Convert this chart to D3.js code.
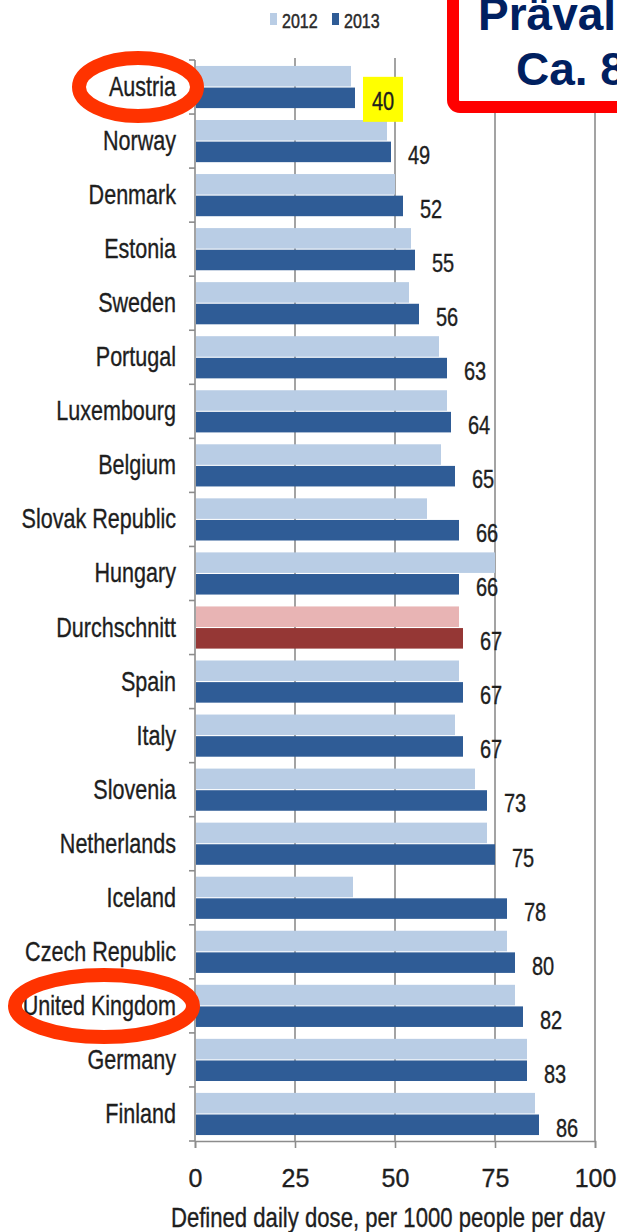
<!DOCTYPE html>
<html>
<head>
<meta charset="utf-8">
<script src="https://cdn.jsdelivr.net/npm/d3@7"></script>
<style>
  html, body { margin: 0; padding: 0; background: #fff; }
  svg { display: block; }
  text { font-family: "Liberation Sans", Arial, sans-serif; }
</style>
</head>
<body>
<svg id="chart" width="617" height="1232"></svg>
<script>
// Antibiotic consumption, defined daily dose per 1000 people per day
const countries = ["Austria", "Norway", "Denmark", "Estonia", "Sweden", "Portugal",
  "Luxembourg", "Belgium", "Slovak Republic", "Hungary", "Durchschnitt", "Spain",
  "Italy", "Slovenia", "Netherlands", "Iceland", "Czech Republic", "United Kingdom",
  "Germany", "Finland"];
const values2012 = [39, 48, 50, 54, 53.5, 61, 63, 61.5, 58, 75, 66, 66, 65, 70, 73, 39.5, 78, 80, 83, 85];
const values2013 = [40, 49, 52, 55, 56, 63, 64, 65, 66, 66, 67, 67, 67, 73, 75, 78, 80, 82, 83, 86];
const seriesNames = ["2012", "2013"];
const xTicks = [0, 25, 50, 75, 100];
const axisTitle = "Defined daily dose, per 1000 people per day";
const averageLabel = "Durchschnitt";
const highlighted = ["Austria", "United Kingdom"];
const calloutLines = ["Prävalenz", "Ca. 8"];

const colors = { "2012": "#b9cde5", "2013": "#2f5c96" };
const avgColors = { "2012": "#e8b4b4", "2013": "#953735" };

const svg = d3.select("#chart");
const plotLeft = 195, plotRight = 595, plotTop = 60, plotBottom = 1141;

const x = d3.scaleLinear().domain([0, 100]).range([plotLeft, plotRight]);
const y = d3.scaleBand().domain(countries).range([plotTop, plotBottom]).paddingInner(0).paddingOuter(0);
const bw = y.bandwidth();
const inner = d3.scaleBand().domain(seriesNames).range([bw * 0.11, bw * 0.89]).paddingInner(0.05);

const rows = countries.map((c, i) => ({ country: c, "2012": values2012[i], "2013": values2013[i] }));

// text helper: horizontally condensed lettering
function label(g, tx, ty, str, size, anchor, sx, extra) {
  const t = g.append("text")
    .attr("transform", `translate(${tx},${ty}) scale(${sx},1)`)
    .attr("text-anchor", anchor)
    .attr("font-size", size)
    .attr("fill", "#1e1e1e")
    .attr("stroke", "#1e1e1e")
    .attr("stroke-width", 0.35)
    .text(str);
  if (extra) extra(t);
  return t;
}

// vertical gridlines
svg.append("g")
  .selectAll("line")
  .data(xTicks.slice(1))
  .join("line")
  .attr("x1", d => x(d)).attr("x2", d => x(d))
  .attr("y1", plotTop - 2).attr("y2", plotBottom)
  .attr("stroke", "#8c8c8c").attr("stroke-width", 1.6);

// bottom axis
const xAxis = svg.append("g")
  .attr("transform", `translate(0,${plotBottom})`)
  .call(d3.axisBottom(x).tickValues(xTicks).tickSize(7).tickFormat(d3.format("d")));
xAxis.select(".domain").attr("stroke", "#8c8c8c").attr("stroke-width", 1.6);
xAxis.selectAll(".tick line").attr("stroke", "#8c8c8c").attr("stroke-width", 1.6);
xAxis.selectAll(".tick text")
  .attr("y", 0).attr("dy", 0)
  .attr("transform", "translate(0,46) scale(1.0,1)")
  .attr("font-size", 25)
  .attr("font-family", "Liberation Sans, Arial, sans-serif")
  .attr("fill", "#1e1e1e")
  .attr("stroke", "#1e1e1e")
  .attr("stroke-width", 0.35);

// left axis line and ticks at band boundaries
svg.append("line")
  .attr("x1", plotLeft).attr("x2", plotLeft).attr("y1", plotTop).attr("y2", plotBottom)
  .attr("stroke", "#8c8c8c").attr("stroke-width", 1.6);
svg.append("g")
  .selectAll("line")
  .data(countries.concat([null]))
  .join("line")
  .attr("x1", plotLeft - 6).attr("x2", plotLeft)
  .attr("y1", (d, i) => plotTop + i * bw).attr("y2", (d, i) => plotTop + i * bw)
  .attr("stroke", "#8c8c8c").attr("stroke-width", 1.6);

// bars
const groups = svg.append("g")
  .selectAll("g")
  .data(rows)
  .join("g")
  .attr("transform", d => `translate(0,${y(d.country)})`);

groups.selectAll("rect")
  .data(d => seriesNames.map(s => ({ s, v: d[s], avg: d.country === averageLabel })))
  .join("rect")
  .attr("x", x(0) + 1)
  .attr("y", d => inner(d.s))
  .attr("width", d => x(d.v) - x(0) - 1)
  .attr("height", inner.bandwidth())
  .attr("fill", d => d.avg ? avgColors[d.s] : colors[d.s]);

// category labels
const labelsG = svg.append("g");
rows.forEach(d => {
  label(labelsG, 176, y(d.country) + bw / 2 + 9, d.country, 28, "end", 0.77);
});

// value labels for 2013
const valG = svg.append("g");
rows.forEach((d, i) => {
  const lx = x(d["2013"]) + 17;
  const ly = y(d.country) + inner("2013") + inner.bandwidth() / 2 + 12;
  if (i === 0) {
    valG.append("rect")
      .attr("x", lx - 9).attr("y", ly - 33)
      .attr("width", 40).attr("height", 45)
      .attr("fill", "#ffff00");
  }
  label(valG, lx, ly, d3.format("d")(d["2013"]), 25, "start", 0.8);
});

// axis title
label(svg, (plotLeft + plotRight) / 2 - 7, 1227, axisTitle, 27, "middle", 0.82);

// legend
const legend = svg.append("g");
[[270, "2012"], [332, "2013"]].forEach(([lx, s]) => {
  legend.append("rect").attr("x", lx).attr("y", 13).attr("width", 7).attr("height", 12)
    .attr("fill", colors[s]);
  label(legend, lx + 12, 28, s, 20, "start", 0.8, t => t.attr("fill", "#2a2a2a").attr("stroke", "#2a2a2a").attr("stroke-width", 0.5));
});

// callout box
svg.append("rect")
  .attr("x", 453).attr("y", -30)
  .attr("width", 300).attr("height", 137)
  .attr("rx", 7)
  .attr("fill", "#ffffff")
  .attr("stroke", "#ff0000").attr("stroke-width", 12);
svg.append("text").attr("x", 478).attr("y", 30)
  .attr("font-size", 46).attr("font-weight", "bold").attr("fill", "#002060")
  .text(calloutLines[0]);
svg.append("text").attr("x", 516).attr("y", 85)
  .attr("font-size", 46).attr("font-weight", "bold").attr("fill", "#002060")
  .text(calloutLines[1]);

// highlight rings around selected countries
const ringSpec = { "Austria": { cx: 138, rx: 59, ry: 29 }, "United Kingdom": { cx: 104, rx: 89, ry: 31 } };
svg.append("g")
  .selectAll("ellipse")
  .data(highlighted)
  .join("ellipse")
  .attr("cx", d => ringSpec[d].cx)
  .attr("cy", d => y(d) + bw / 2)
  .attr("rx", d => ringSpec[d].rx)
  .attr("ry", d => ringSpec[d].ry)
  .attr("fill", "none")
  .attr("stroke", "#ff3300")
  .attr("stroke-width", 14);
</script>
</body>
</html>
